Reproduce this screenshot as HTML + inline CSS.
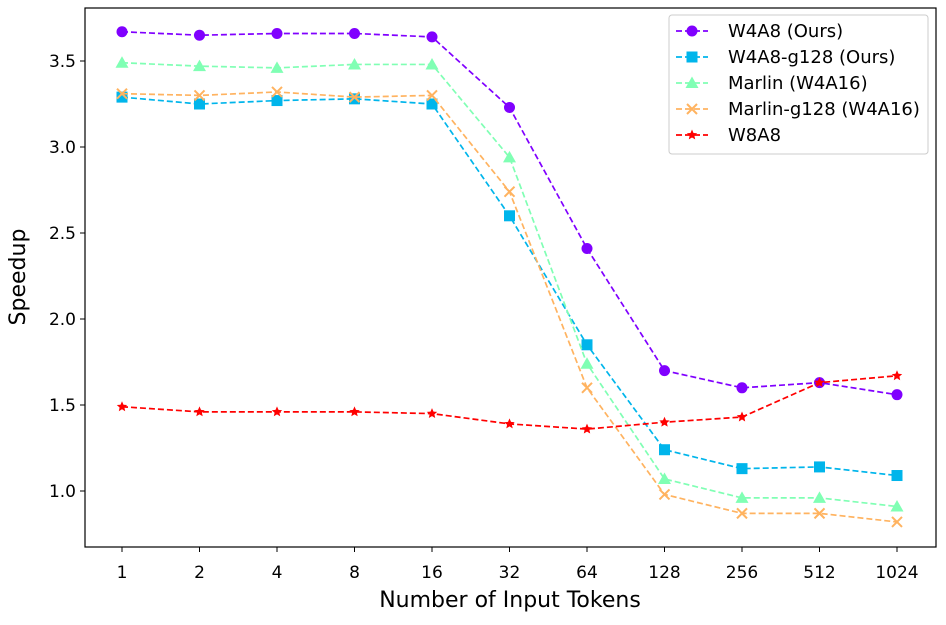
<!DOCTYPE html>
<html><head><meta charset="utf-8"><style>
body{margin:0;background:#fff;}
svg text{font-family:"DejaVu Sans","Liberation Sans",sans-serif;fill:#000;}
</style></head><body>
<svg id="chart" width="946" height="620" xmlns="http://www.w3.org/2000/svg">
<rect x="85" y="8" width="851" height="539" fill="none" stroke="#000" stroke-width="1.2"/>
<g id="ticks"></g>
<g id="series"></g>
<text x="510" y="607" font-size="22" text-anchor="middle">Number of Input Tokens</text>
<text transform="translate(25,277) rotate(-90)" font-size="22" text-anchor="middle">Speedup</text>
<g id="legend">
<rect x="669" y="15" width="259" height="139" rx="3" fill="#fff" fill-opacity="0.8" stroke="#ccc" stroke-width="1"/>
</g>
</svg>
<script>
const categories=["1","2","4","8","16","32","64","128","256","512","1024"];
const yTicks=[1.0,1.5,2.0,2.5,3.0,3.5];
const seriesNames=["W4A8 (Ours)","W4A8-g128 (Ours)","Marlin (W4A16)","Marlin-g128 (W4A16)","W8A8"];
const w4a8=[3.67,3.65,3.66,3.66,3.64,3.23,2.41,1.70,1.60,1.63,1.56];
const w4a8g128=[3.29,3.25,3.27,3.28,3.25,2.60,1.85,1.24,1.13,1.14,1.09];
const marlin=[3.49,3.47,3.46,3.48,3.48,2.94,1.74,1.07,0.96,0.96,0.91];
const marling128=[3.31,3.30,3.32,3.29,3.30,2.74,1.60,0.98,0.87,0.87,0.82];
const w8a8=[1.49,1.46,1.46,1.46,1.45,1.39,1.36,1.40,1.43,1.63,1.67];

const NS="http://www.w3.org/2000/svg";
const xPos=i=>122+i*(897-122)/(categories.length-1);
const yPos=v=>491-(v-1)*172;
function mk(tag,attrs,parent){const e=document.createElementNS(NS,tag);for(const k in attrs)e.setAttribute(k,attrs[k]);parent.appendChild(e);return e;}
const tg=document.getElementById('ticks');
categories.forEach((c,i)=>{
  const l=mk('line',{x1:xPos(i),x2:xPos(i),y1:547,y2:552,stroke:'#000'},tg);
  
  
  const t=mk('text',{x:xPos(i),y:578,'font-size':17,'text-anchor':'middle'},tg);t.textContent=c;
  
  
});
yTicks.forEach(v=>{
  const l=mk('line',{x1:80,x2:85,y1:yPos(v),y2:yPos(v),stroke:'#000'},tg);
  
  
  const t=mk('text',{x:76,y:yPos(v)+6,'font-size':17,'text-anchor':'end'},tg);t.textContent=v.toFixed(1);
  
  
});
const colors=["#8000ff","#00b5eb","#80ffb4","#ffb360","#ff0000"];
const markers=["circle","square","triangle","x","star"];
const data=[w4a8,w4a8g128,marlin,marling128,w8a8];
function marker(type,x,y,c,g){
  if(type==='circle')return mk('circle',{cx:x,cy:y,r:5.5,fill:c},g);
  if(type==='square')return mk('rect',{x:x-5.5,y:y-5.5,width:11,height:11,fill:c},g);
  if(type==='triangle')return mk('polygon',{points:`${x},${y-6.5} ${x+6.5},${y+5} ${x-6.5},${y+5}`,fill:c},g);
  if(type==='x')return mk('path',{d:`M${x-5},${y-5}L${x+5},${y+5}M${x-5},${y+5}L${x+5},${y-5}`,stroke:c,'stroke-width':2},g);
  let p=[];for(let k=0;k<10;k++){const r=k%2?2.5:5.5,a=-Math.PI/2+k*Math.PI/5;p.push((x+r*Math.cos(a)).toFixed(1)+','+(y+r*Math.sin(a)).toFixed(1));}
  return mk('polygon',{points:p.join(' '),fill:c},g);
}
const sg=document.getElementById('series');
data.forEach((d,s)=>{
  const g=mk('g',{},sg);
  
  
  const ln=mk('polyline',{points:d.map((v,i)=>xPos(i)+','+yPos(v)).join(' '),fill:'none',stroke:colors[s],'stroke-width':1.7,'stroke-dasharray':'6,3'},g);
  
  
  d.forEach((v,i)=>{const m=marker(markers[s],xPos(i),yPos(v),colors[s],g);
    
    });
});
const lg=document.getElementById('legend');
seriesNames.forEach((n,s)=>{
  const y=31+s*26;
  const g=mk('g',{},lg);
  
  
  mk('line',{x1:676,x2:708,y1:y,y2:y,stroke:colors[s],'stroke-width':1.7,'stroke-dasharray':'6,3'},g);
  marker(markers[s],692,y,colors[s],g);
  const t=mk('text',{x:728,y:y+6,'font-size':18},g);t.textContent=n;
});
</script>
</body></html>
